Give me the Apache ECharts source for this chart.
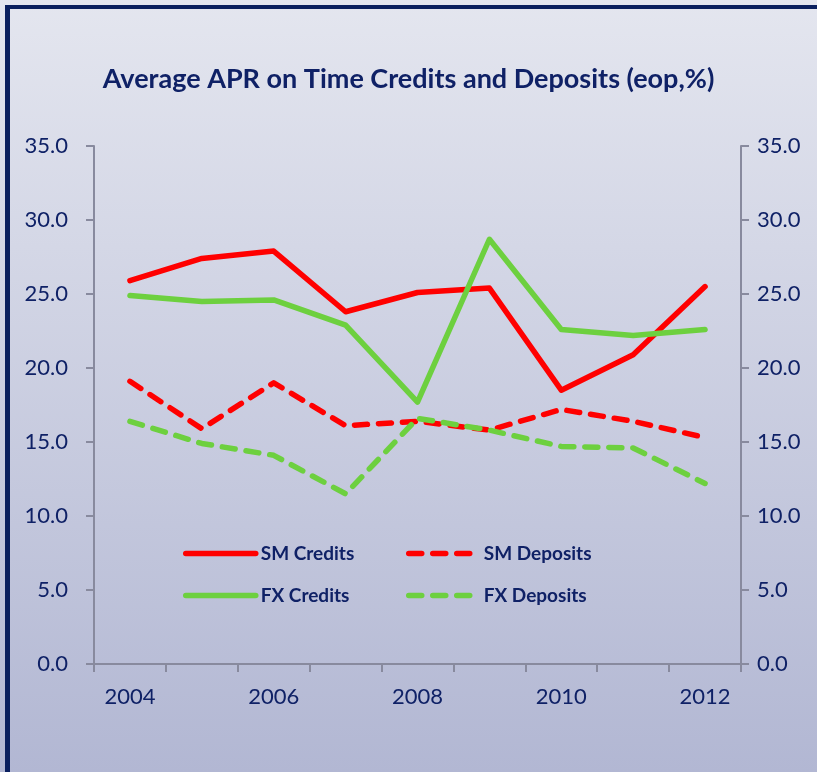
<!DOCTYPE html>
<html>
<head>
<meta charset="utf-8">
<script src="https://cdn.jsdelivr.net/npm/echarts@6/dist/echarts.min.js"></script>
<style>
  html, body { margin: 0; padding: 0; }
  .page { position: relative; width: 817px; height: 772px; background: linear-gradient(#e4e6ef, #b2b7d3); overflow: hidden }
  .frame { position: absolute; left: 5px; top: 5px; right: -10px; bottom: -10px; border-left: 5px solid #0a1f5e; border-top: 4px solid #0a1f5e }
  #chart { position: absolute; left: 0; top: 0; width: 817px; height: 772px }
</style>
</head>
<body>
<div class="page">
  <div class="frame"></div>
  <div id="chart"></div>
</div>
<script>
// 年份 & 各序列数值
const years = ['2004', '2005', '2006', '2007', '2008', '2009', '2010', '2011', '2012']
const smCredits = [25.9, 27.4, 27.9, 23.8, 25.1, 25.4, 18.5, 20.9, 25.5]
const smDeposits = [19.1, 15.9, 19.0, 16.1, 16.4, 15.8, 17.2, 16.4, 15.3]
const fxCredits = [24.9, 24.5, 24.6, 22.9, 17.7, 28.7, 22.6, 22.2, 22.6]
const fxDeposits = [16.4, 14.9, 14.1, 11.5, 16.6, 15.8, 14.7, 14.6, 12.2]

const navy = '#0f2166'
const red = '#ff0000'
const green = '#6dd03f'
const axisGray = '#888a9e'

const chart = echarts.init(document.getElementById('chart'))

function yAxis(pos) {
  return {
    type: 'value', position: pos, min: 0, max: 35, interval: 5,
    axisLine: { show: true, lineStyle: { color: axisGray, width: 2 } },
    axisTick: { show: true, length: 8, lineStyle: { color: axisGray, width: 2 } },
    axisLabel: { color: navy, fontFamily: 'Lato', fontSize: 22, margin: pos === 'left' ? 26 : 16, formatter: v => v.toFixed(1) },
    splitLine: { show: false },
  }
}

function line(name, data, color, dashed) {
  return {
    name, type: 'line', data, symbol: 'none',
    lineStyle: { color, width: 5.5, cap: 'round', join: 'round', type: dashed ? [13, 11] : 'solid' },
    itemStyle: { color },
  }
}

// 图例：每项单独定位
function legend(name, left, top) {
  return {
    left, top, data: [name], itemWidth: 70, itemHeight: 14,
    itemStyle: { opacity: 0 },
    lineStyle: { width: 5.5, cap: 'round' },
    textStyle: { color: navy, fontFamily: 'Lato', fontWeight: 'bold', fontSize: 19 },
  }
}

chart.setOption({
  animation: false,
  title: {
    text: 'Average APR on Time Credits and Deposits (eop,%)',
    left: 'center', top: 61,
    textStyle: { color: navy, fontFamily: 'Lato', fontWeight: 'bold', fontSize: 27 },
  },
  legend: [
    legend('SM Credits', 178, 539),
    legend('SM Deposits', 401, 539),
    legend('FX Credits', 178, 581),
    legend('FX Deposits', 401, 581),
  ],
  grid: { left: 94, right: 76, top: 146, bottom: 108 },
  xAxis: {
    type: 'category', data: years, boundaryGap: true,
    axisLine: { lineStyle: { color: axisGray, width: 2 } },
    axisTick: { show: true, interval: 0, length: 8, lineStyle: { color: axisGray, width: 2 } },
    axisLabel: { interval: 1, color: navy, fontFamily: 'Lato', fontSize: 22, margin: 22 },
  },
  yAxis: [yAxis('left'), yAxis('right')],
  series: [
    line('SM Credits', smCredits, red, false),
    line('SM Deposits', smDeposits, red, true),
    line('FX Credits', fxCredits, green, false),
    line('FX Deposits', fxDeposits, green, true),
  ],
})
</script>
</body>
</html>
